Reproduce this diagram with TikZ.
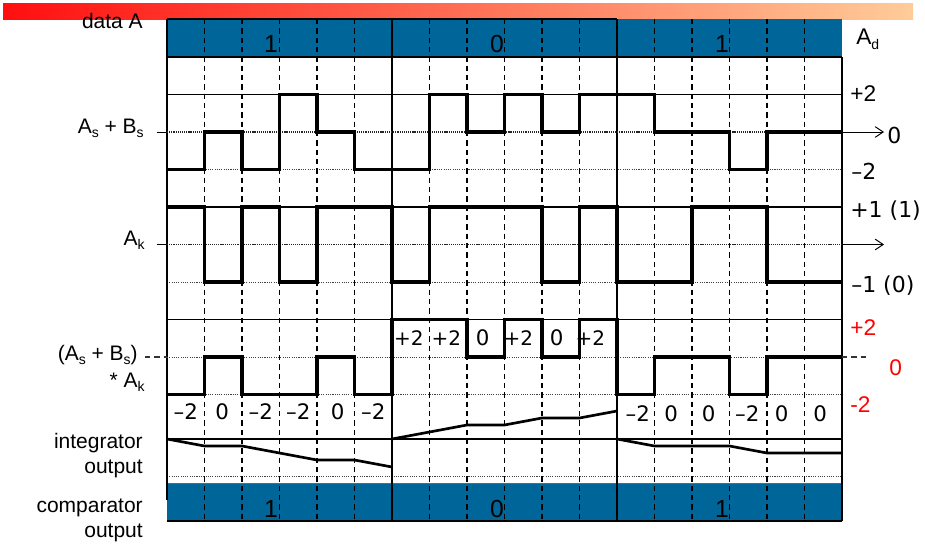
\documentclass[tikz,border=0pt]{standalone}
\usepackage{fontspec}
\setmainfont{Liberation Sans}
\newfontfamily\verd{DejaVu Sans}
\usetikzlibrary{arrows.meta}
\definecolor{barblue}{RGB}{0,102,153}
\definecolor{gradL}{RGB}{255,15,15}
\definecolor{gradR}{RGB}{255,204,153}
\definecolor{redlab}{RGB}{255,0,0}
\newcommand{\xc}[1]{167+37.5*#1}
\newcommand{\sbs}[1]{\raisebox{-0.22em}{\fontsize{10.5}{10.5}\selectfont #1}}
\begin{document}
\begin{tikzpicture}[x=0.75pt,y=-0.75pt,
  lab/.style={font=\fontsize{15.75}{18}\selectfont, inner sep=0pt, anchor=base east},
  barlab/.style={font=\fontsize{18.5}{20}\selectfont, inner sep=0pt},
  cell/.style={font=\verd\fontsize{16}{18}\selectfont, inner sep=0pt},
  cellb/.style={font=\verd\fontsize{15}{18}\selectfont, inner sep=0pt},
  rlab/.style={font=\fontsize{17}{18}\selectfont, inner sep=0pt, anchor=west},
  vlab/.style={font=\verd\fontsize{16.5}{18}\selectfont, inner sep=0pt, anchor=west},
  wave/.style={line width=2.3pt, line join=miter},
  gridline/.style={line width=1.4pt},
  thindot/.style={line width=0.7pt, dash pattern=on 0.8pt off 0.9pt, black!75},
  axisdot/.style={line width=1.3pt, dash pattern=on 0.9pt off 0.7pt, black!85},
  vdash/.style={line width=0.9pt, dash pattern=on 4pt off 3pt},
  hdash/.style={line width=0.8pt, dash pattern=on 4pt off 3pt, black!80},
  outer/.style={line width=1.6pt},
  border/.style={line width=2.2pt},
  axtip/.style={line width=0.7pt, -{Straight Barb[length=6pt,width=8pt]}},
]
\useasboundingbox (0,0) rectangle (925,546);
% title gradient bar
\shade[left color=gradL, right color=gradR] (3,3) rectangle (913,19);
% blue data bars
\fill[barblue] (167,19) rectangle (842,57);
\fill[barblue] (167,483) rectangle (842,521);
% fine dotted reference lines
\foreach \y in {169.5,282,394.5,476} \draw[thindot] (167,\y) -- (842,\y);
% dashed bit-interval lines
\foreach \i in {1,2,3,4,5,7,8,9,10,11,13,14,15,16,17}
  \draw[vdash] (\xc{\i},19) -- (\xc{\i},521);
% solid row lines
\foreach \y in {94.5,207,319.5,439} \draw[gridline] (167,\y) -- (842,\y);
% bar borders
\draw[border] (167,19) -- (\xc{12},19);
\draw[border] (167,57) -- (842,57);
\draw[border] (167,521) -- (842,521);
\draw[line width=0.6pt, black!60] (167,483) -- (842,483);
% vertical borders
\draw[outer] (167,19) -- (167,500);
\draw[outer] (842,57) -- (842,521);
\draw[border] (\xc{6},19) -- (\xc{6},521);
\draw[border] (\xc{12},19) -- (\xc{12},521);
% axes
\draw[axisdot] (167,132) -- (842,132);
\draw[line width=0.7pt] (157,132) -- (167,132);
\draw[axtip] (842,132) -- (884,132);
\draw[axisdot] (167,244.5) -- (842,244.5);
\draw[line width=0.7pt] (157,244.5) -- (167,244.5);
\draw[axtip] (842,244.5) -- (884,244.5);
% product zero line
\draw[hdash] (145,357) -- (167,357);
\draw[thindot] (167,357) -- (842,357);
\draw[hdash] (842,357) -- (867,357);
% As + Bs waveform
\draw[wave] (\xc{0},169.5) -- (\xc{1},169.5) -- (\xc{1},132) -- (\xc{2},132) -- (\xc{2},169.5)
  -- (\xc{3},169.5) -- (\xc{3},94.5) -- (\xc{4},94.5) -- (\xc{4},132) -- (\xc{5},132)
  -- (\xc{5},169.5) -- (\xc{7},169.5) -- (\xc{7},94.5) -- (\xc{8},94.5) -- (\xc{8},132)
  -- (\xc{9},132) -- (\xc{9},94.5) -- (\xc{10},94.5) -- (\xc{10},132) -- (\xc{11},132)
  -- (\xc{11},94.5) -- (\xc{13},94.5) -- (\xc{13},132) -- (\xc{15},132) -- (\xc{15},169.5)
  -- (\xc{16},169.5) -- (\xc{16},132) -- (\xc{18},132);
% Ak waveform
\draw[wave] (\xc{0},207) -- (\xc{1},207) -- (\xc{1},282) -- (\xc{2},282) -- (\xc{2},207)
  -- (\xc{3},207) -- (\xc{3},282) -- (\xc{4},282) -- (\xc{4},207) -- (\xc{6},207)
  -- (\xc{6},282) -- (\xc{7},282) -- (\xc{7},207) -- (\xc{10},207) -- (\xc{10},282)
  -- (\xc{11},282) -- (\xc{11},207) -- (\xc{12},207) -- (\xc{12},282) -- (\xc{14},282)
  -- (\xc{14},207) -- (\xc{16},207) -- (\xc{16},282) -- (\xc{18},282);
% product waveform
\draw[wave] (\xc{0},394.5) -- (\xc{1},394.5) -- (\xc{1},357) -- (\xc{2},357) -- (\xc{2},394.5)
  -- (\xc{4},394.5) -- (\xc{4},357) -- (\xc{5},357) -- (\xc{5},394.5) -- (\xc{6},394.5)
  -- (\xc{6},319.5) -- (\xc{8},319.5) -- (\xc{8},357) -- (\xc{9},357) -- (\xc{9},319.5)
  -- (\xc{10},319.5) -- (\xc{10},357) -- (\xc{11},357) -- (\xc{11},319.5) -- (\xc{12},319.5)
  -- (\xc{12},394.5) -- (\xc{13},394.5) -- (\xc{13},357) -- (\xc{15},357) -- (\xc{15},394.5)
  -- (\xc{16},394.5) -- (\xc{16},357) -- (\xc{18},357);
% integrator output
\draw[line width=2pt] (\xc{0},439) -- (\xc{1},446) -- (\xc{2},446) -- (\xc{4},460) -- (\xc{5},460) -- (\xc{6},467);
\draw[line width=2pt] (\xc{6},439) -- (\xc{8},425) -- (\xc{9},425) -- (\xc{10},418) -- (\xc{11},418) -- (\xc{12},411);
\draw[line width=2pt] (\xc{12},439) -- (\xc{13},446) -- (\xc{15},446) -- (\xc{16},453) -- (\xc{18},453);
% bar labels
\node[barlab] (da1) at (271,44) {1};
\node[barlab] (da2) at (497,44) {0};
\node[barlab] (da3) at (722,44) {1};
\node[barlab] (co1) at (271,509) {1};
\node[barlab] (co2) at (497,509) {0};
\node[barlab] (co3) at (722,509) {1};
% cell values
\node[cell] (p1) at (\xc{0.5},412) {–2};
\node[cell] (p2) at (\xc{1.5}-1,412) {0};
\node[cell] (p3) at (\xc{2.5},412) {–2};
\node[cell] (p4) at (\xc{3.5},412) {–2};
\node[cell] (p5) at (\xc{4.5}+2,412) {0};
\node[cell] (p6) at (\xc{5.5},412) {–2};
\node[cellb] (p7) at (\xc{6.5}-2,338) {+2};
\node[cellb] (p8) at (\xc{7.5}-2,338) {+2};
\node[cell] (p9) at (\xc{8.5}-3,338) {0};
\node[cellb] (p10) at (\xc{9.5}-5,338) {+2};
\node[cell] (p11) at (\xc{10.5}-4,338) {0};
\node[cellb] (p12) at (\xc{11.5}-8,338) {+2};
\node[cell] (p13) at (\xc{12.5}+2,414) {–2};
\node[cell] (p14) at (\xc{13.5}-2,414) {0};
\node[cell] (p15) at (\xc{14.5}-2,414) {0};
\node[cell] (p16) at (\xc{15.5}-1,414) {–2};
\node[cell] (p17) at (\xc{16.5}-4,414) {0};
\node[cell] (p18) at (\xc{17.5}-3,414) {0};
% left labels
\node[lab] (ldata) at (143,28) {data A};
\node[lab] (lsum) at (144,133) {A\sbs{s} + B\sbs{s}};
\node[lab] (lak) at (145,245) {A\sbs{k}};
\node[lab] (lprod1) at (138,360) {(A\sbs{s} + B\sbs{s})};
\node[lab] (lprod2) at (145,387) {* A\sbs{k}};
\node[lab] (lint1) at (143,448) {integrator};
\node[lab] (lint2) at (143,473) {output};
\node[lab] (lcmp1) at (143,512) {comparator};
\node[lab] (lcmp2) at (143,537) {output};
% right labels
\node[rlab, anchor=base west] (rad) at (856,45) {A\sbs{d}};
\node[rlab] (rp2) at (850,93.5) {+2};
\node[vlab] (rz) at (887,135) {0};
\node[vlab] (rm2) at (851,171) {–2};
\node[vlab] (rp1) at (850,211) {+1 (1)};
\node[vlab] (rm1) at (851,286) {–1 (0)};
\node[rlab, text=redlab] (qp2) at (850,328) {+2};
\node[rlab, text=redlab] (qz) at (889,368) {0};
\node[rlab, text=redlab] (qm2) at (850,405) {-2};
\end{tikzpicture}
\end{document}
